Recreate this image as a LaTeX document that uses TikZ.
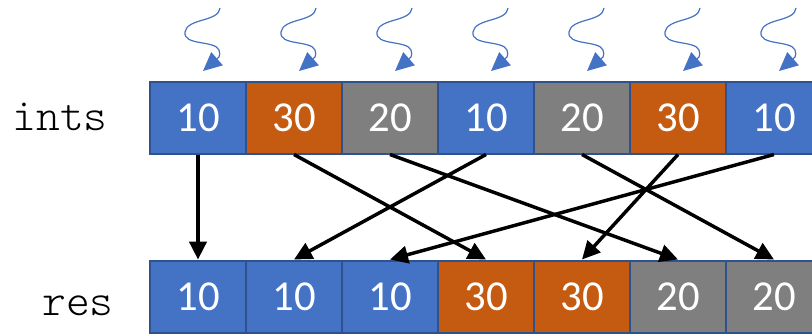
\documentclass[tikz,border=0pt]{standalone}
\usepackage{fontspec}
\setmainfont{Carlito}
\newfontfamily\codefont{Latin Modern Mono Light}
\usetikzlibrary{arrows.meta}
\definecolor{cblue}{HTML}{4472C4}
\definecolor{corange}{HTML}{C55A11}
\definecolor{cgray}{HTML}{7F7F7F}
\definecolor{cedge}{HTML}{2F528F}
\tikzset{
  cell/.style={draw=cedge, line width=1.5pt, minimum width=72pt, minimum height=54pt,
    inner sep=0pt, text=white, font=\fontsize{32}{36}\selectfont},
  blu/.style={cell, fill=cblue},
  org/.style={cell, fill=corange},
  gry/.style={cell, fill=cgray},
  move/.style={line width=2.6pt, -{Triangle[length=13.5pt,width=13pt]}},
  squig/.style={draw=cblue, line width=0.9pt, -{Triangle[length=14pt,width=13pt]}},
  lbl/.style={anchor=base, inner sep=0pt, font=\codefont\fontsize{34}{38}\selectfont}
}
\begin{document}
\begin{tikzpicture}[x=0.75pt,y=-0.75pt]
\clip (0,0) rectangle (812,333);
\fill[white] (0,0) rectangle (812,333);

% array labels
\node[lbl] (lints) at (60,130) {ints};
\node[lbl] (lres) at (78,315) {res};

% input array
\node[blu] (t0) at (198,117.5) {10};
\node[org] (t1) at (294,117.5) {30};
\node[gry] (t2) at (390,117.5) {20};
\node[blu] (t3) at (486,117.5) {10};
\node[gry] (t4) at (582,117.5) {20};
\node[org] (t5) at (678,117.5) {30};
\node[blu] (t6) at (774,117.5) {10};

% result array
\node[blu] (r0) at (198,296.5) {10};
\node[blu] (r1) at (294,296.5) {10};
\node[blu] (r2) at (390,296.5) {10};
\node[org] (r3) at (486,296.5) {30};
\node[org] (r4) at (582,296.5) {30};
\node[gry] (r5) at (678,296.5) {20};
\node[gry] (r6) at (774,296.5) {20};

% wavy arrows feeding each input element
\foreach \i in {0,...,6} {
  \begin{scope}[shift={(96*\i,0)}]
    \draw[squig] (220,8) .. controls (219,22) and (187,18) .. (185,32)
      .. controls (183,46) and (215,40) .. (219,50)
      .. controls (220,53) and (220,55) .. (219,57) -- (203,71);
  \end{scope}
}

% element moves
\draw[move] (t0.south) -- (r0.north);
\draw[move] (t1.south) -- (r3.north);
\draw[move] (t2.south) -- (r5.north);
\draw[move] (t3.south) -- (r1.north);
\draw[move] (t4.south) -- (r6.north);
\draw[move] (t5.south) -- (r4.north);
\draw[move] (t6.south) -- (r2.north);
\end{tikzpicture}
\end{document}
